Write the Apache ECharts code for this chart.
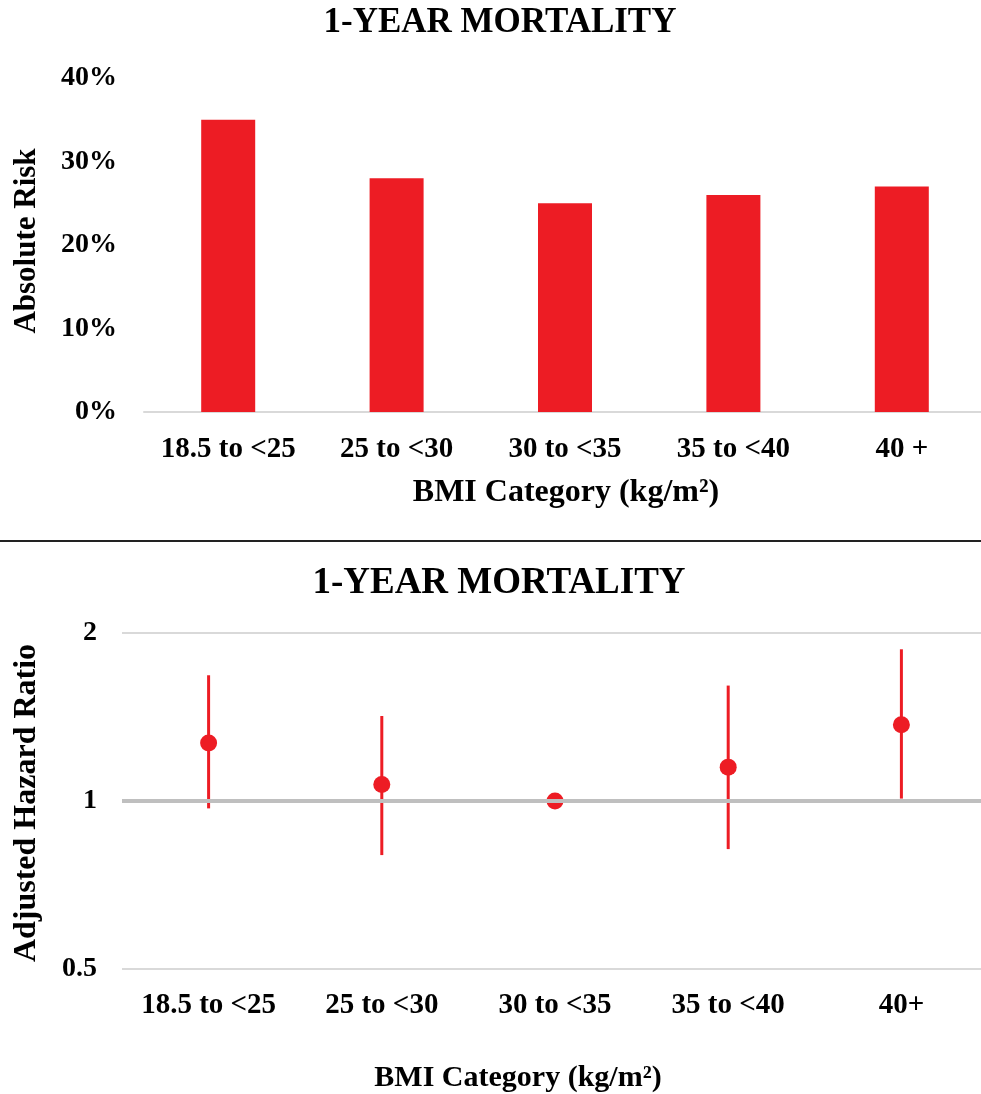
<!DOCTYPE html>
<html><head><meta charset="utf-8">
<script src="https://cdn.jsdelivr.net/npm/echarts@6/dist/echarts.min.js"></script>
<style>html,body{margin:0;padding:0;background:#fff;overflow:hidden}#c{width:1000px;height:1094px}</style>
</head><body><div id="c"></div>
<script>
// ---- data ----
const categoriesTop = ['18.5 to <25', '25 to <30', '30 to <35', '35 to <40', '40 +'];
const absoluteRisk = [0.35, 0.28, 0.25, 0.26, 0.27];
const riskTicks = [0, 0.1, 0.2, 0.3, 0.4];

const categoriesBottom = ['18.5 to <25', '25 to <30', '30 to <35', '35 to <40', '40+'];
const hazardRatio = [1.27, 1.07, 1.00, 1.15, 1.37];
const ciLow  = [0.97, 0.80, null, 0.82, 1.01];
const ciHigh = [1.68, 1.42, null, 1.61, 1.87];
const hrTicks = [0.5, 1, 2];

const titleTop = '1-YEAR MORTALITY';
const titleBottom = '1-YEAR MORTALITY';
const yNameTop = 'Absolute Risk';
const yNameBottom = 'Adjusted Hazard Ratio';
const xName = 'BMI Category (kg/m²)';

// ---- style ----
const FONT = "'Liberation Serif', 'Times New Roman', serif";
const RED = '#ED1C24';
const txt = (size) => ({ fontFamily: FONT, fontWeight: 'bold', fontSize: size, color: '#000' });

const errData = [];
categoriesBottom.forEach((c, i) => {
  if (ciLow[i] != null && ciHigh[i] != null) errData.push([i, ciLow[i], ciHigh[i]]);
});

const chart = echarts.init(document.getElementById('c'), null, { renderer: 'canvas' });
chart.setOption({
  animation: false,
  backgroundColor: '#fff',
  grid: [
    { left: 144, top: 78, width: 842, height: 334 },
    { left: 122, top: 633, width: 866, height: 336 }
  ],
  xAxis: [
    {
      type: 'category', gridIndex: 0, data: categoriesTop,
      axisLine: { show: true, lineStyle: { color: '#d9d9d9', width: 2 } },
      axisTick: { show: false },
      axisLabel: Object.assign(txt(29), { margin: 23, interval: 0 })
    },
    {
      type: 'category', gridIndex: 1, data: categoriesBottom,
      axisLine: { show: false }, axisTick: { show: false },
      axisLabel: Object.assign(txt(29), { margin: 22, interval: 0 })
    }
  ],
  yAxis: [
    {
      type: 'value', gridIndex: 0, min: riskTicks[0], max: riskTicks[riskTicks.length - 1], interval: 0.1,
      axisLine: { show: false }, axisTick: { show: false }, splitLine: { show: false },
      axisLabel: Object.assign(txt(28), { margin: 27, formatter: v => Math.round(v * 100) + '%' })
    },
    {
      type: 'log', gridIndex: 1, logBase: 2, min: hrTicks[0], max: hrTicks[hrTicks.length - 1],
      axisLine: { show: false }, axisTick: { show: false },
      splitLine: { show: true, lineStyle: { color: '#d9d9d9', width: 2 } },
      axisLabel: Object.assign(txt(28), { margin: 25, formatter: v => String(+v.toFixed(2)) })
    }
  ],
  series: [
    {
      type: 'bar', xAxisIndex: 0, yAxisIndex: 0, data: absoluteRisk,
      barWidth: 54, itemStyle: { color: RED }, silent: true
    },
    {
      type: 'line', xAxisIndex: 1, yAxisIndex: 1, data: [], z: 1, silent: true,
      markLine: {
        silent: true, symbol: 'none', label: { show: false },
        lineStyle: { color: '#bfbfbf', width: 4, type: 'solid' },
        data: [{ yAxis: 1 }]
      }
    },
    {
      type: 'custom', xAxisIndex: 1, yAxisIndex: 1, data: errData, z: 3, silent: true,
      encode: { x: 0, y: [1, 2] },
      renderItem: (params, api) => {
        const x = api.value(0);
        const lo = api.coord([x, api.value(1)]);
        const hi = api.coord([x, api.value(2)]);
        return { type: 'line', shape: { x1: lo[0], y1: lo[1], x2: hi[0], y2: hi[1] },
                 style: { stroke: RED, lineWidth: 3 } };
      }
    },
    {
      type: 'scatter', xAxisIndex: 1, yAxisIndex: 1, data: hazardRatio, z: 4, silent: true,
      symbol: 'circle', symbolSize: 17, itemStyle: { color: RED, opacity: 1 }
    }
  ],
  graphic: [
    { type: 'text', x: 500, y: 23, style: { text: titleTop, fill: '#000', align: 'center', verticalAlign: 'middle', font: "bold 35px " + FONT } },
    { type: 'text', x: 499, y: 583, style: { text: titleBottom, fill: '#000', align: 'center', verticalAlign: 'middle', font: "bold 37px " + FONT } },
    { type: 'text', x: 27, y: 241, rotation: Math.PI / 2, style: { text: yNameTop, fill: '#000', align: 'center', verticalAlign: 'middle', font: "bold 31px " + FONT } },
    { type: 'text', x: 27, y: 803, rotation: Math.PI / 2, style: { text: yNameBottom, fill: '#000', align: 'center', verticalAlign: 'middle', font: "bold 32px " + FONT } },
    { type: 'text', x: 566, y: 493, style: { text: xName, fill: '#000', align: 'center', verticalAlign: 'middle', font: "bold 32px " + FONT } },
    { type: 'text', x: 518, y: 1078, style: { text: xName, fill: '#000', align: 'center', verticalAlign: 'middle', font: "bold 30px " + FONT } },
    { type: 'line', shape: { x1: 0, y1: 541, x2: 1000, y2: 541 }, style: { stroke: '#222', lineWidth: 2 } }
  ]
});
</script>
</body></html>
